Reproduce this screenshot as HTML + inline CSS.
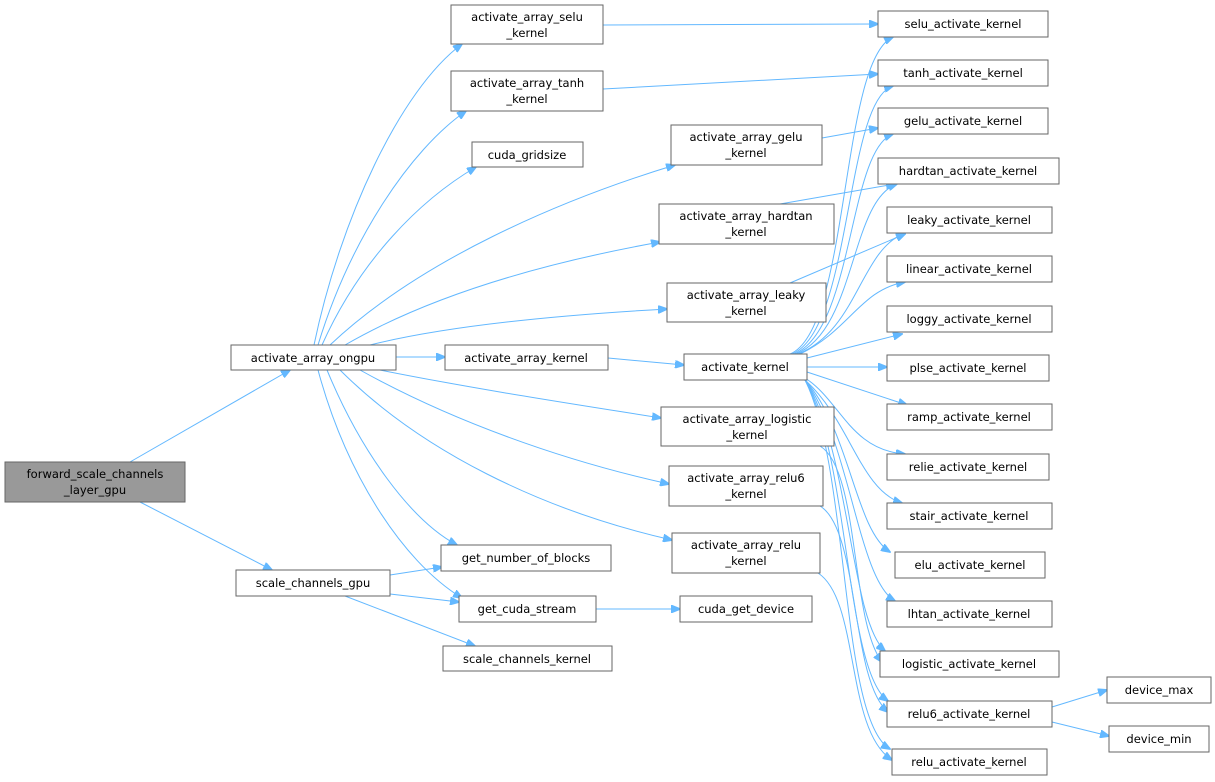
<!DOCTYPE html>
<html><head><meta charset="utf-8"><style>
body{margin:0;background:#fff;}
svg{display:block}
text{font-family:"DejaVu Sans","Liberation Sans",sans-serif;font-size:11.5px;fill:#000;text-anchor:middle}
rect{fill:#fff;stroke:#666;stroke-width:1}
path.e{fill:none;stroke:#63b8ff;stroke-width:1}
</style></head><body>
<svg width="1215" height="782" viewBox="0 0 1215 782" xmlns="http://www.w3.org/2000/svg">
<defs><marker id="a" markerWidth="10" markerHeight="8" refX="9" refY="4" orient="auto" markerUnits="userSpaceOnUse"><path d="M0,0 L10,4 L0,8 z" fill="#63b8ff" stroke="#63b8ff"/></marker></defs>
<g marker-end="url(#a)">
<path class="e" d="M130,462 L290,370"/>
<path class="e" d="M140,502 L272,570"/>
<path class="e" d="M314,345 C340,220 400,90 462,44"/>
<path class="e" d="M318,345 C350,240 410,150 466,111"/>
<path class="e" d="M322,345 C360,260 420,200 476,167"/>
<path class="e" d="M330,345 C420,260 560,200 675,165"/>
<path class="e" d="M345,345 C440,290 560,260 660,242"/>
<path class="e" d="M370,345 C450,325 560,315 667,309"/>
<path class="e" d="M396,357 L445,357"/>
<path class="e" d="M380,370 C480,390 580,405 661,418"/>
<path class="e" d="M360,370 C450,420 560,460 669,484"/>
<path class="e" d="M340,370 C420,450 540,510 672,540"/>
<path class="e" d="M327,370 C360,450 410,520 457,545"/>
<path class="e" d="M318,370 C345,470 400,560 462,598"/>
<path class="e" d="M390,575 L442,567"/>
<path class="e" d="M390,594 L459,602"/>
<path class="e" d="M345,596 L475,646"/>
<path class="e" d="M596,609 L680,609"/>
<path class="e" d="M608,358 L684,365"/>
<path class="e" d="M603,25 L878,24"/>
<path class="e" d="M603,89 L878,74"/>
<path class="e" d="M822,138 L878,128"/>
<path class="e" d="M780,204 L895,184"/>
<path class="e" d="M790,283 L905,234"/>
<path class="e" d="M820,446 C860,470 850,620 882,662"/>
<path class="e" d="M820,506 C860,530 850,680 888,712"/>
<path class="e" d="M818,573 C860,600 845,730 892,760"/>
<path class="e" d="M790,354 C850,330 840,60 893,37"/>
<path class="e" d="M792,354 C852,330 845,100 893,86"/>
<path class="e" d="M794,354 C854,330 848,150 893,134"/>
<path class="e" d="M796,354 C856,330 850,200 897,184"/>
<path class="e" d="M798,354 C858,330 860,250 905,233"/>
<path class="e" d="M800,354 C850,330 860,290 905,282"/>
<path class="e" d="M807,358 L902,334"/>
<path class="e" d="M807,367 L887,367"/>
<path class="e" d="M807,372 L907,405"/>
<path class="e" d="M805,378 C840,400 850,450 905,454"/>
<path class="e" d="M805,380 C850,420 860,490 902,503"/>
<path class="e" d="M805,380 C850,430 855,530 890,552"/>
<path class="e" d="M805,380 C850,440 858,580 895,601"/>
<path class="e" d="M805,380 C850,450 850,620 885,651"/>
<path class="e" d="M805,380 C850,460 845,670 888,701"/>
<path class="e" d="M805,380 C850,470 840,720 890,749"/>
<path class="e" d="M1052,707 L1107,690"/>
<path class="e" d="M1052,722 L1109,736"/>
</g>
<rect x="5" y="462" width="180" height="40" style="fill:#999"/><text x="95" y="478">forward_scale_channels</text><text x="95" y="494">_layer_gpu</text>
<rect x="231" y="345" width="165" height="25"/><text x="313" y="362">activate_array_ongpu</text>
<rect x="236" y="570" width="154" height="26"/><text x="313" y="587">scale_channels_gpu</text>
<rect x="451" y="5" width="152" height="39"/><text x="527" y="21">activate_array_selu</text><text x="527" y="37">_kernel</text>
<rect x="451" y="71" width="152" height="40"/><text x="527" y="87">activate_array_tanh</text><text x="527" y="103">_kernel</text>
<rect x="472" y="142" width="111" height="25"/><text x="527" y="159">cuda_gridsize</text>
<rect x="671" y="125" width="151" height="40"/><text x="746" y="141">activate_array_gelu</text><text x="746" y="157">_kernel</text>
<rect x="659" y="204" width="175" height="40"/><text x="746" y="220">activate_array_hardtan</text><text x="746" y="236">_kernel</text>
<rect x="667" y="283" width="159" height="39"/><text x="746" y="299">activate_array_leaky</text><text x="746" y="315">_kernel</text>
<rect x="445" y="345" width="163" height="25"/><text x="526" y="362">activate_array_kernel</text>
<rect x="684" y="354" width="123" height="26"/><text x="745" y="371">activate_kernel</text>
<rect x="661" y="407" width="173" height="39"/><text x="747" y="423">activate_array_logistic</text><text x="747" y="439">_kernel</text>
<rect x="669" y="466" width="154" height="40"/><text x="746" y="482">activate_array_relu6</text><text x="746" y="498">_kernel</text>
<rect x="672" y="533" width="148" height="40"/><text x="746" y="549">activate_array_relu</text><text x="746" y="565">_kernel</text>
<rect x="441" y="545" width="170" height="26"/><text x="526" y="562">get_number_of_blocks</text>
<rect x="459" y="596" width="137" height="26"/><text x="527" y="613">get_cuda_stream</text>
<rect x="443" y="646" width="169" height="25"/><text x="527" y="663">scale_channels_kernel</text>
<rect x="680" y="596" width="132" height="26"/><text x="746" y="613">cuda_get_device</text>
<rect x="878" y="11" width="170" height="26"/><text x="963" y="28">selu_activate_kernel</text>
<rect x="878" y="60" width="170" height="26"/><text x="963" y="77">tanh_activate_kernel</text>
<rect x="878" y="108" width="170" height="26"/><text x="963" y="125">gelu_activate_kernel</text>
<rect x="878" y="158" width="181" height="26"/><text x="968" y="175">hardtan_activate_kernel</text>
<rect x="887" y="207" width="165" height="26"/><text x="969" y="224">leaky_activate_kernel</text>
<rect x="887" y="256" width="165" height="26"/><text x="969" y="273">linear_activate_kernel</text>
<rect x="887" y="306" width="165" height="26"/><text x="969" y="323">loggy_activate_kernel</text>
<rect x="887" y="355" width="162" height="26"/><text x="968" y="372">plse_activate_kernel</text>
<rect x="887" y="404" width="165" height="26"/><text x="969" y="421">ramp_activate_kernel</text>
<rect x="887" y="454" width="162" height="26"/><text x="968" y="471">relie_activate_kernel</text>
<rect x="887" y="503" width="165" height="26"/><text x="969" y="520">stair_activate_kernel</text>
<rect x="895" y="552" width="150" height="26"/><text x="970" y="569">elu_activate_kernel</text>
<rect x="887" y="601" width="165" height="26"/><text x="969" y="618">lhtan_activate_kernel</text>
<rect x="880" y="651" width="179" height="26"/><text x="969" y="668">logistic_activate_kernel</text>
<rect x="887" y="701" width="165" height="26"/><text x="969" y="718">relu6_activate_kernel</text>
<rect x="892" y="749" width="155" height="26"/><text x="969" y="766">relu_activate_kernel</text>
<rect x="1107" y="677" width="104" height="26"/><text x="1159" y="694">device_max</text>
<rect x="1109" y="726" width="100" height="26"/><text x="1159" y="743">device_min</text>
</svg>
</body></html>
